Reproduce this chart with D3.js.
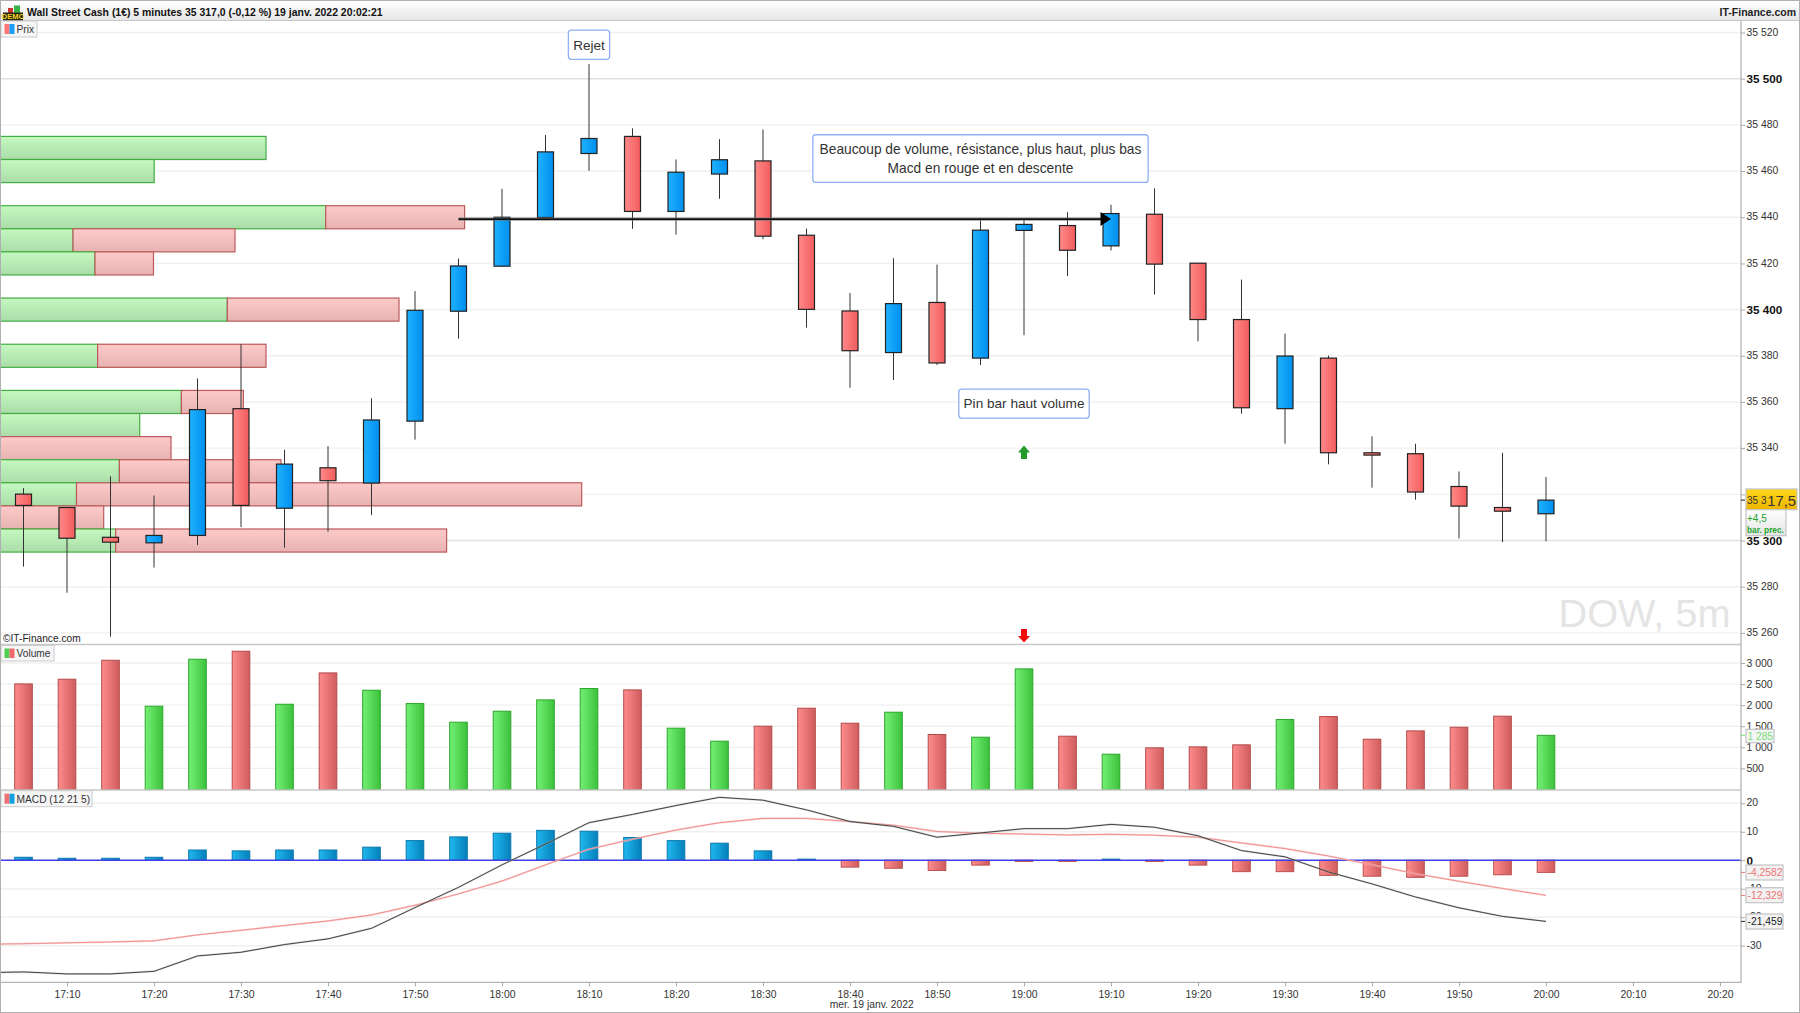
<!DOCTYPE html>
<html><head><meta charset="utf-8">
<script src="https://cdn.jsdelivr.net/npm/d3@7/dist/d3.min.js"></script>
<style>
html,body{margin:0;padding:0;background:#fff;overflow:hidden}
svg{display:block}
text{font-family:"Liberation Sans",Arial,sans-serif}
</style></head><body>
<script>
// ---------- data ----------
const times=["17:05","17:10","17:15","17:20","17:25","17:30","17:35","17:40","17:45","17:50","17:55","18:00","18:05","18:10","18:15","18:20","18:25","18:30","18:35","18:40","18:45","18:50","18:55","19:00","19:05","19:10","19:15","19:20","19:25","19:30","19:35","19:40","19:45","19:50","19:55","20:00"];
const opens =[35320.1,35314.3,35301.4,35299,35302.2,35357.1,35314,35331.5,35324.9,35351.7,35399.3,35418.8,35439.9,35467.6,35475,35442.5,35458.7,35464.4,35432.2,35399.4,35381.4,35403.1,35379,35434.3,35436.4,35427.6,35441.3,35420.1,35395.7,35357.1,35379,35338,35337.6,35323.4,35314.3,35311.6];
const highs =[35322.7,35314.3,35327.8,35319.5,35370.2,35385,35339.3,35340.9,35361.6,35408,35422.1,35452.3,35475.6,35506.3,35478.5,35465,35473.8,35478,35435.1,35407.2,35422.3,35419.5,35439.6,35439.2,35442.2,35445.4,35452.5,35420.1,35413,35389.6,35380.1,35345.1,35341.9,35329.9,35338,35327.5];
const lows  =[35288.7,35277.4,35258.4,35288.3,35298,35305.8,35296.9,35303.8,35311,35343.7,35387.4,35418.5,35438.7,35460.1,35435,35432.5,35448,35430.5,35392.2,35366.2,35369.5,35376,35376,35388.9,35414.6,35425.6,35406.5,35386.3,35354.9,35341.9,35333,35322.9,35317.7,35300.9,35299.3,35299.7];
const closes=[35315.2,35301,35299.3,35302.2,35356.7,35315.2,35333.1,35325.9,35352.2,35399.7,35418.9,35440,35468.3,35474.1,35442.5,35459.5,35464.9,35431.8,35400.1,35382.2,35402.6,35376.9,35434.4,35436.9,35425.7,35441.6,35419.7,35395.7,35357.5,35379.9,35338,35337,35321,35314.9,35312.7,35317.5];
const volumes=[2504,2615,3065,1975,3089,3279,2022,2765,2354,2038,1596,1857,2125,2394,2362,1454,1146,1501,1928,1572,1833,1304,1240,2860,1264,837,988,1011,1059,1659,1730,1193,1390,1477,1738,1285];
const volumeUp=[0,0,0,1,1,0,1,0,1,1,1,1,1,1,0,1,1,0,0,0,1,0,1,1,0,1,0,0,0,1,0,0,0,0,0,1];
const macdHist=[1.05,.7,.7,1.05,3.6,3.3,3.6,3.6,4.6,6.9,8.2,9.5,10.5,10.2,8,6.9,6,3.3,.4,-2.4,-2.8,-3.6,-1.7,-.4,-.4,.4,-.4,-1.7,-4,-4,-5.3,-5.6,-6,-5.6,-5.1,-4.2582];
const macdTimes=["17:00"].concat(times);
const macdLine=[-39.5,-39.2,-39.9,-39.9,-39,-33.6,-32.3,-29.6,-27.6,-23.9,-16.6,-9.5,-1.6,5.7,13.2,16.1,19.2,22.1,21.1,17.7,13.6,11.9,8.1,9.6,11.1,11.1,12.6,11.6,8.6,3.4,1.2,-4.1,-8.3,-12.9,-16.7,-19.7,-21.459];
const signalLine=[-29.5,-29.3,-29,-28.7,-28.3,-26.2,-24.6,-22.9,-21.3,-19.2,-15.8,-11.8,-7.3,-1.6,3.9,7.4,10.6,13.2,14.7,14.7,13.6,12.3,10.1,9.5,9.2,8.9,9.1,8.8,8.1,6.1,4.1,1.5,-1.6,-4.7,-7.4,-9.9,-12.329];
const vpLow =[35465,35455,35435,35425,35415,35395,35375,35355,35345,35335,35325,35315,35305,35295];
const vpBuy =[2660,1542,3257,730,950,2273,976,1814,1397,0,1194,765,0,1156];
const vpSell=[0,0,1389,1620,585,1717,1684,620,0,1710,1616,5052,1037,3310];
const priceTicks=[35520,35500,35480,35460,35440,35420,35400,35380,35360,35340,35320,35300,35280,35260];
const volumeTicks=[3000,2500,2000,1500,1000,500];
const macdTicks=[20,10,0,-10,-20,-30];
const timeTicks=["17:10","17:20","17:30","17:40","17:50","18:00","18:10","18:20","18:30","18:40","18:50","19:00","19:10","19:20","19:30","19:40","19:50","20:00","20:10","20:20"];
const noteLines=[["Rejet"],["Beaucoup de volume, résistance, plus haut, plus bas","Macd en rouge et en descente"],["Pin bar haut volume"]];
const noteTimes=["18:10","18:55","19:00"];
const notePrices=[35514.7,35465.4,35359.3];
const levelTimes=["17:55","19:10"];
const levelPrice=35439.2;
const upArrow={time:"19:00",price:35341.2};
const downArrow={time:"19:00",price:35261.7};

// ---------- scales ----------
const W=1800,H=1013,axisX=1741;
const parseT=d3.timeParse("%H:%M");
const x=d3.scaleTime().domain([parseT("17:10"),parseT("20:20")]).range([67,1720]);
const yP=d3.scaleLinear().domain([35260,35520]).range([632.9,32.5]);
const yV=d3.scaleLinear().domain([0,3000]).range([789.5,663]);
const yM=d3.scaleLinear().domain([-30,20]).range([945.7,803.3]);
const vpX=d3.scaleLinear().domain([0,5817]).range([0,581.7]);
const sp=v=>String(v).replace(/\B(?=(\d{3})+$)/g," ");

const svg=d3.select("body").append("svg").attr("width",W).attr("height",H).attr("viewBox",`0 0 ${W} ${H}`);
const defs=svg.append("defs");
function grad(id,c1,c2,vertical){
  const g=defs.append("linearGradient").attr("id",id).attr("x1",0).attr("y1",0).attr("x2",vertical?0:1).attr("y2",vertical?1:0);
  g.append("stop").attr("offset",0).attr("stop-color",c1);
  g.append("stop").attr("offset",1).attr("stop-color",c2);
}
grad("cRed","#ff8a8a","#f25c5c");
grad("cBlue","#1fb2ff","#008fee");
grad("vRed","#ff8c8c","#cf5d5d");
grad("vGreen","#74f074","#3cc23c");
grad("mBlue","#1fb8ee","#0580ba");
grad("vpG","#c6f9c0","#a9dca8",true);
grad("vpR","#fdcaca","#e7b2b2",true);
grad("titleBar","#ffffff","#e6e6e6",true);
grad("tagY","#ffd81a","#efb400",true);
grad("tagW","#ffffff","#e4e4e4",true);

svg.append("rect").attr("width",W).attr("height",H).attr("fill","#fff");

// ---------- grid ----------
const grid=svg.append("g").attr("fill","none");
function gridLines(vals,scale,strong){
  grid.selectAll(null).data(vals).enter().append("line")
    .attr("x1",1).attr("x2",axisX).attr("y1",d=>scale(d)).attr("y2",d=>scale(d))
    .attr("stroke",d=>strong&&strong.includes(d)?"#e0e0e0":"#f0f0f0").attr("stroke-width",1.4);
}
gridLines(priceTicks,yP,[35500,35300]);
gridLines(volumeTicks,yV);
gridLines(macdTicks.filter(d=>d!==0),yM);

// watermark
svg.append("text").attr("x",1730.5).attr("y",626.5).attr("text-anchor","end").attr("font-size",39.7).attr("fill","#e4e4e4").text("DOW, 5m");

// ---------- volume profile ----------
const vp=svg.append("g").attr("stroke-width",1.2);
vpLow.forEach((low,i)=>{
  const y0=yP(low+10),y1=yP(low);
  if(vpBuy[i]>0) vp.append("rect").attr("x",vpX(0)).attr("y",y0).attr("width",vpX(vpBuy[i])-vpX(0)).attr("height",y1-y0)
    .attr("fill","url(#vpG)").attr("stroke","#43ad43");
  if(vpSell[i]>0) vp.append("rect").attr("x",vpX(vpBuy[i])).attr("y",y0).attr("width",vpX(vpBuy[i]+vpSell[i])-vpX(vpBuy[i])).attr("height",y1-y0)
    .attr("fill","url(#vpR)").attr("stroke","#bb5a5a");
});

// ---------- candles ----------
const candles=times.map((t,i)=>({t:parseT(t),o:opens[i],h:highs[i],l:lows[i],c:closes[i]}));
const cg=svg.append("g").selectAll("g").data(candles).enter().append("g");
cg.append("line").attr("x1",d=>x(d.t)).attr("x2",d=>x(d.t)).attr("y1",d=>yP(d.h)).attr("y2",d=>yP(d.l)).attr("stroke","#333").attr("stroke-width",1);
cg.append("rect").attr("x",d=>x(d.t)-8).attr("width",16)
  .attr("y",d=>yP(Math.max(d.o,d.c))).attr("height",d=>Math.abs(yP(d.o)-yP(d.c)))
  .attr("fill",d=>d.c>=d.o?"url(#cBlue)":"url(#cRed)").attr("stroke","#222").attr("stroke-width",1.2);

// level line with arrow head
const lvlY=yP(levelPrice),lx0=x(parseT(levelTimes[0])),lx1=x(parseT(levelTimes[1]));
svg.append("line").attr("x1",lx0).attr("x2",lx1-6).attr("y1",lvlY).attr("y2",lvlY).attr("stroke","#777").attr("stroke-width",3.6).attr("opacity",.55);
svg.append("line").attr("x1",lx0).attr("x2",lx1-6).attr("y1",lvlY).attr("y2",lvlY).attr("stroke","#111").attr("stroke-width",1.7);
svg.append("path").attr("d",`M${lx1-10.5},${lvlY-7}L${lx1},${lvlY}L${lx1-10.5},${lvlY+7}Z`).attr("fill","#000");

// signal arrows
const ua=[x(parseT(upArrow.time)),yP(upArrow.price)];
svg.append("path").attr("transform",`translate(${ua[0]},${ua[1]})`).attr("d","M0,0L6,7L3,7L3,13.5L-3,13.5L-3,7L-6,7Z").attr("fill","#229a2c");
const da=[x(parseT(downArrow.time)),yP(downArrow.price)];
svg.append("path").attr("transform",`translate(${da[0]},${da[1]})`).attr("d","M-3,0L3,0L3,7L6,7L0,13.5L-6,7L-3,7Z").attr("fill","#f00a0a");

// notes
noteLines.forEach((lines,i)=>{
  const cx=x(parseT(noteTimes[i])),cy=yP(notePrices[i]);
  const g=svg.append("g");
  const r=g.append("rect").attr("rx",3).attr("fill","#fff").attr("stroke","#8fb0f5").attr("stroke-width",1.3);
  let w=0;
  lines.forEach((s,j)=>{
    const t=g.append("text").attr("x",cx).attr("y",cy+4.8-(lines.length-1)*9.3+j*18.6).attr("text-anchor","middle")
      .attr("font-size",lines.length>1?13.75:13.6).attr("fill","#333").text(s);
    w=Math.max(w,t.node().getComputedTextLength());
  });
  const h=lines.length*18.6+10.5; w+=lines.length>1?13.5:9.5;
  r.attr("x",cx-w/2).attr("y",cy-h/2).attr("width",w).attr("height",h);
});

svg.append("text").attr("x",3).attr("y",642).attr("font-size",10.2).attr("fill","#222").text("©IT-Finance.com");

// ---------- volume bars ----------
svg.append("g").selectAll("rect").data(times).enter().append("rect")
  .attr("x",d=>x(parseT(d))-8.8).attr("width",17.6)
  .attr("y",(d,i)=>yV(volumes[i])).attr("height",(d,i)=>yV(0)-yV(volumes[i]))
  .attr("fill",(d,i)=>volumeUp[i]?"url(#vGreen)":"url(#vRed)")
  .attr("stroke",(d,i)=>volumeUp[i]?"#2ba52b":"#b34a4a").attr("stroke-width",1);

// ---------- MACD ----------
svg.append("g").selectAll("rect").data(times).enter().append("rect")
  .attr("x",d=>x(parseT(d))-8.8).attr("width",17.6)
  .attr("y",(d,i)=>macdHist[i]>=0?yM(macdHist[i]):yM(0)).attr("height",(d,i)=>Math.abs(yM(macdHist[i])-yM(0)))
  .attr("fill",(d,i)=>macdHist[i]>=0?"url(#mBlue)":"url(#vRed)")
  .attr("stroke",(d,i)=>macdHist[i]>=0?"#0a78ae":"#bb5050").attr("stroke-width",1);
svg.append("line").attr("x1",1).attr("x2",axisX).attr("y1",yM(0)).attr("y2",yM(0)).attr("stroke","#3f3fe6").attr("stroke-width",1.3);
const lineGen=d3.line().x(d=>x(d.t)).y(d=>yM(d.v));
defs.append("clipPath").attr("id","macdClip").append("rect").attr("x",1).attr("y",791).attr("width",axisX-1).attr("height",191);
const sigData=macdTimes.map((t,i)=>({t:parseT(t),v:signalLine[i]}));
const macData=macdTimes.map((t,i)=>({t:parseT(t),v:macdLine[i]}));
const ml=svg.append("g").attr("clip-path","url(#macdClip)").attr("fill","none");
ml.append("path").attr("d",lineGen(sigData)).attr("stroke","#f8c0c0").attr("stroke-width",2).attr("opacity",.6);
ml.append("path").attr("d",lineGen(sigData)).attr("stroke","#f09090").attr("stroke-width",1);
ml.append("path").attr("d",lineGen(macData)).attr("stroke","#aaa").attr("stroke-width",2).attr("opacity",.45);
ml.append("path").attr("d",lineGen(macData)).attr("stroke","#444").attr("stroke-width",1);

// ---------- frame / panes ----------
const frame=svg.append("g").attr("fill","none");
frame.append("line").attr("x1",1).attr("x2",axisX).attr("y1",644.5).attr("y2",644.5).attr("stroke","#c8c8c8").attr("stroke-width",1.4);
frame.append("line").attr("x1",1).attr("x2",axisX).attr("y1",790).attr("y2",790).attr("stroke","#c8c8c8").attr("stroke-width",1.4);
frame.append("line").attr("x1",1).attr("x2",axisX).attr("y1",982.3).attr("y2",982.3).attr("stroke","#b4b4b4").attr("stroke-width",1.2);
frame.append("line").attr("x1",axisX).attr("x2",axisX).attr("y1",20).attr("y2",982.8).attr("stroke","#aeaeae").attr("stroke-width",1.2);

// ---------- axes ----------
function styleAxis(g,boldVals,dy){
  g.select(".domain").remove();
  g.selectAll(".tick line").attr("stroke","#aaa");
  g.selectAll(".tick text").attr("fill","#333").attr("font-size",10.4).attr("font-family",'"Liberation Sans",Arial,sans-serif');
  if(dy) g.selectAll(".tick text").attr("dy",dy);
  if(boldVals) g.selectAll(".tick").filter(d=>boldVals.includes(d)).select("text").attr("font-weight","bold").attr("font-size",11.7).attr("fill","#111").attr("dy","0.32em");
}
svg.append("g").attr("transform",`translate(${axisX},0)`)
  .call(d3.axisRight(yP).tickValues(priceTicks).tickFormat(sp).tickSize(4).tickPadding(1.5))
  .call(g=>styleAxis(g,[35500,35400,35300],"0.25em"));
svg.append("g").attr("transform",`translate(${axisX},0)`)
  .call(d3.axisRight(yV).tickValues(volumeTicks).tickFormat(sp).tickSize(4).tickPadding(1.5))
  .call(g=>styleAxis(g));
svg.append("g").attr("transform",`translate(${axisX},0)`)
  .call(d3.axisRight(yM).tickValues(macdTicks).tickFormat(d=>String(d)).tickSize(4).tickPadding(1.5))
  .call(g=>styleAxis(g,[0],"0.25em"));
svg.append("g").attr("transform","translate(0,982.3)")
  .call(d3.axisBottom(x).tickValues(timeTicks.map(parseT)).tickFormat(d3.timeFormat("%H:%M")).tickSize(4).tickPadding(4.5))
  .call(g=>styleAxis(g));
svg.append("text").attr("x",871.7).attr("y",1008).attr("text-anchor","middle").attr("font-size",10.3).attr("fill","#333").text("mer. 19 janv. 2022");

// ---------- last value tags ----------
function tag(x0,y0,w,h,fill){
  svg.append("rect").attr("x",x0).attr("y",y0).attr("width",w).attr("height",h).attr("fill",fill).attr("stroke","#c4c4c4").attr("stroke-width",1.2);
}
function tickMark(y,color){svg.append("line").attr("x1",axisX).attr("x2",axisX+4).attr("y1",y).attr("y2",y).attr("stroke",color);}
const last=closes[closes.length-1];
tickMark(yP(last),"#111");
tag(1746,489,51,20.7,"url(#tagY)");
svg.append("text").attr("x",1747).attr("y",504).attr("font-size",10).attr("fill","#333").text("35 3");
svg.append("text").attr("x",1796).attr("y",505.5).attr("text-anchor","end").attr("font-size",14.8).attr("fill","#333").text("17,5");
tag(1746,509.7,40,26,"url(#tagW)");
svg.append("text").attr("x",1747).attr("y",522).attr("font-size",10).attr("fill","#22a52b").text("+4,5");
svg.append("text").attr("x",1747).attr("y",532.5).attr("font-size",8.3).attr("font-weight","bold").attr("fill","#22a52b").text("bar. prec.");

tickMark(yV(volumes[volumes.length-1]),"#74e074");
tag(1746,729.3,28,13.4,"#f4f4f4");
svg.append("text").attr("x",1747.5).attr("y",740).attr("font-size",10.2).attr("fill","#74e074").text(sp(volumes[volumes.length-1]));

const lastHist=macdHist[macdHist.length-1],lastSig=signalLine[signalLine.length-1],lastMac=macdLine[macdLine.length-1];
[[lastHist,"#f07373",865,"-4,2582"],[lastSig,"#f07373",887.7,"-12,329"],[lastMac,"#222",914,"-21,459"]].forEach(([v,c,ty,label])=>{
  tickMark(yM(v),c);
  tag(1746,ty,37,15,"#f2f2f2");
  svg.append("text").attr("x",1747.5).attr("y",ty+11.2).attr("font-size",10.3).attr("fill",c).text(label);
});

// ---------- title bar ----------
svg.append("rect").attr("x",1).attr("y",1).attr("width",W-2).attr("height",19.5).attr("fill","url(#titleBar)");
svg.append("line").attr("x1",1).attr("x2",W-1).attr("y1",20.5).attr("y2",20.5).attr("stroke","#c8c8c8").attr("stroke-width",1.2);
const logo=svg.append("g");
logo.append("rect").attr("x",8).attr("y",8).attr("width",5).attr("height",5).attr("fill","#c8352f");
logo.append("rect").attr("x",14).attr("y",5.5).attr("width",6).attr("height",8).attr("fill","#36b34a");
logo.append("rect").attr("x",3).attr("y",12.5).attr("width",20).attr("height",8).attr("fill","#2a2a14");
logo.append("text").attr("x",13).attr("y",19.3).attr("text-anchor","middle").attr("font-size",7.5).attr("font-weight","bold").attr("fill","#f2d21e").text("DEMO");
svg.append("text").attr("x",27).attr("y",16.3).attr("font-size",10.45).attr("font-weight","bold").attr("fill","#111").text("Wall Street Cash (1€) 5 minutes 35 317,0 (-0,12 %) 19 janv. 2022 20:02:21");
svg.append("text").attr("x",1796).attr("y",16.3).attr("text-anchor","end").attr("font-size",10.5).attr("font-weight","bold").attr("fill","#222").text("IT-Finance.com");

// ---------- legend chips ----------
function chip(label,y0,h,w,c1,c2){
  svg.append("rect").attr("x",1).attr("y",y0).attr("width",w).attr("height",h).attr("fill","#f6f6f6").attr("stroke","#ccc");
  svg.append("rect").attr("x",4.5).attr("y",y0+3).attr("width",5).attr("height",h-6).attr("fill",c1);
  svg.append("rect").attr("x",9.5).attr("y",y0+3).attr("width",5).attr("height",h-6).attr("fill",c2);
  svg.append("text").attr("x",16.5).attr("y",y0+h/2+4).attr("font-size",10.2).attr("fill","#333").text(label);
}
chip("Prix",21,16,36,"#ff7878","#1a9cf5");
chip("Volume",645.5,15.5,53,"#4fcf4f","#ee6a6a");
chip("MACD (12 21 5)",790.7,16,91,"#ee7070","#10a0e0");

// outer frame
svg.append("rect").attr("x",.5).attr("y",.5).attr("width",W-1).attr("height",H-1).attr("fill","none").attr("stroke","#b0b0b0");
</script>
</body></html>
